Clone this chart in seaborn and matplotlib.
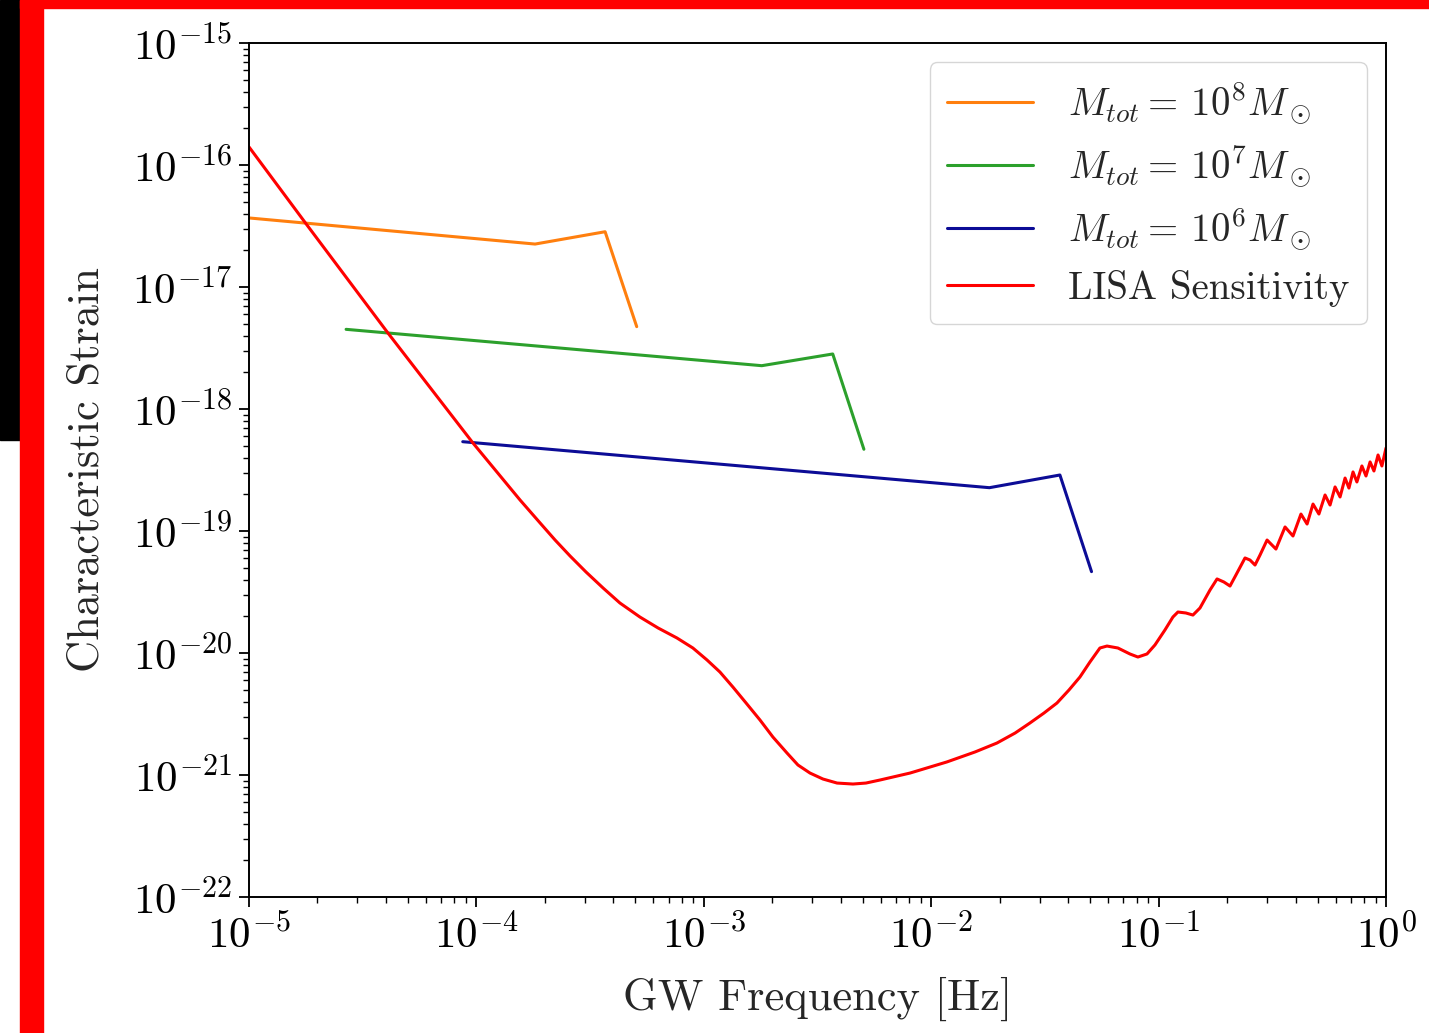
import numpy as np
import pandas as pd
import matplotlib
matplotlib.use("Agg")
import matplotlib.pyplot as plt
import seaborn as sns
from matplotlib.patches import Rectangle

# ---------------- data (log10 values) ----------------
orange_logf = [-5.0, -3.742, -3.434, -3.295]
orange_logh = [-16.434, -16.648, -16.547, -17.325]

green_logf = [-4.573, -2.745, -2.433, -2.296]
green_logh = [-17.347, -17.645, -17.549, -18.330]

blue_logf = [-4.060, -1.744, -1.434, -1.295]
blue_logh = [-18.268, -18.645, -18.541, -19.333]

red_logf = [-5.0, -4.745, -4.389, -4.015, -3.808, -3.720, -3.654, -3.588, -3.518, -3.443,
            -3.369, -3.281, -3.201, -3.118, -3.048, -2.986, -2.929, -2.872, -2.814, -2.753,
            -2.696, -2.634, -2.586, -2.533, -2.476, -2.414, -2.344, -2.287, -2.225, -2.093,
            -1.931, -1.807, -1.711, -1.631, -1.566, -1.504, -1.447, -1.394, -1.346, -1.302,
            -1.258, -1.227, -1.179, -1.126, -1.091, -1.051, -1.016, -0.972,
            -0.937, -0.915, -0.880, -0.849, -0.818, -0.774, -0.743, -0.713, -0.686, -0.660,
            -0.620, -0.598, -0.576, -0.554, -0.523, -0.484, -0.444, -0.409, -0.374, -0.347,
            -0.321, -0.295, -0.268, -0.246, -0.224, -0.202, -0.180, -0.163, -0.145, -0.128,
            -0.106, -0.088, -0.070, -0.053, -0.035, -0.018, 0.0]
red_logh = [-15.852, -16.492, -17.377, -18.279, -18.746, -18.934, -19.074, -19.205, -19.336, -19.467,
            -19.590, -19.705, -19.795, -19.877, -19.959, -20.057, -20.156, -20.279, -20.410, -20.549,
            -20.689, -20.820, -20.918, -20.984, -21.033, -21.066, -21.074, -21.066, -21.041, -20.984,
            -20.893, -20.811, -20.738, -20.656, -20.574, -20.492, -20.410, -20.303, -20.197, -20.074,
            -19.959, -19.943, -19.959, -20.008, -20.033, -20.008, -19.934, -19.811,
            -19.705, -19.664, -19.672, -19.689, -19.631, -19.484, -19.393, -19.418, -19.451, -19.361,
            -19.221, -19.238, -19.279, -19.197, -19.074, -19.148, -18.967, -19.041, -18.861, -18.943,
            -18.779, -18.861, -18.705, -18.787, -18.639, -18.721, -18.566, -18.648, -18.516, -18.598,
            -18.467, -18.549, -18.434, -18.508, -18.377, -18.467, -18.320]

labels = [r"$M_{tot} = \,10^8 M_\odot$", r"$M_{tot} = \,10^7 M_\odot$",
          r"$M_{tot} = \,10^6 M_\odot$", "LISA Sensitivity"]
colors = ["#ff7f0e", "#2ca02c", "#0c0c96", "#ff0000"]

xlim = (1e-5, 1e0)
ylim = (1e-22, 1e-15)

# ---------------- style ----------------
sns.set_style("ticks")
plt.rcParams.update({
    "font.family": "serif",
    "font.serif": ["cmr10", "DejaVu Serif"],
    "mathtext.fontset": "cm",
    "axes.formatter.use_mathtext": True,
    "font.size": 28,
    "axes.labelsize": 32,
    "xtick.labelsize": 31,
    "ytick.labelsize": 31,
    "axes.linewidth": 1.4,
    "axes.edgecolor": "black",
    "xtick.color": "black",
    "ytick.color": "black",
    "xtick.major.size": 7, "ytick.major.size": 7,
    "xtick.minor.size": 4, "ytick.minor.size": 4,
    "xtick.major.width": 1.3, "ytick.major.width": 1.3,
    "xtick.minor.width": 1.0, "ytick.minor.width": 1.0,
    "xtick.major.pad": 5, "ytick.major.pad": 5,
    "xtick.direction": "out", "ytick.direction": "out",
})

fig = plt.figure(figsize=(14.29, 10.33), dpi=100)
ax = fig.add_axes([249 / 1429, 1 - 897 / 1033, (1386 - 249) / 1429, (897 - 43) / 1033])

series = [(orange_logf, orange_logh), (green_logf, green_logh),
          (blue_logf, blue_logh), (red_logf, red_logh)]
for (lf, lh), lab, col in zip(series, labels, colors):
    df = pd.DataFrame({"f": 10.0 ** np.array(lf), "h": 10.0 ** np.array(lh)})
    sns.lineplot(data=df, x="f", y="h", ax=ax, color=col, label=lab,
                 linewidth=2.2, estimator=None, sort=False)

ax.set_xscale("log")
ax.set_yscale("log")
ax.set_xlim(*xlim)
ax.set_ylim(*ylim)
ax.set_xlabel("GW Frequency [Hz]", labelpad=14)
ax.set_ylabel("Characteristic Strain", labelpad=18)
for s in ["top", "right"]:
    ax.spines[s].set_visible(True)

ax.legend(loc="upper right", frameon=True, fancybox=True, framealpha=0.8,
          edgecolor="#cccccc", handlelength=2.2, handletextpad=0.9, labelspacing=0.45,
          borderpad=0.45)

# screenshot frame decorations
fig.patches.append(Rectangle((0, 1 - 440 / 1033), 20 / 1429, 440 / 1033,
                             transform=fig.transFigure, color="black", zorder=10))
fig.patches.append(Rectangle((20 / 1429, 0), 23 / 1429, 1,
                             transform=fig.transFigure, color="#ff0000", zorder=10))
fig.patches.append(Rectangle((20 / 1429, 1 - 8 / 1033), 1 - 20 / 1429, 8 / 1033,
                             transform=fig.transFigure, color="#ff0000", zorder=10))

fig.savefig("out.png", dpi=100)
